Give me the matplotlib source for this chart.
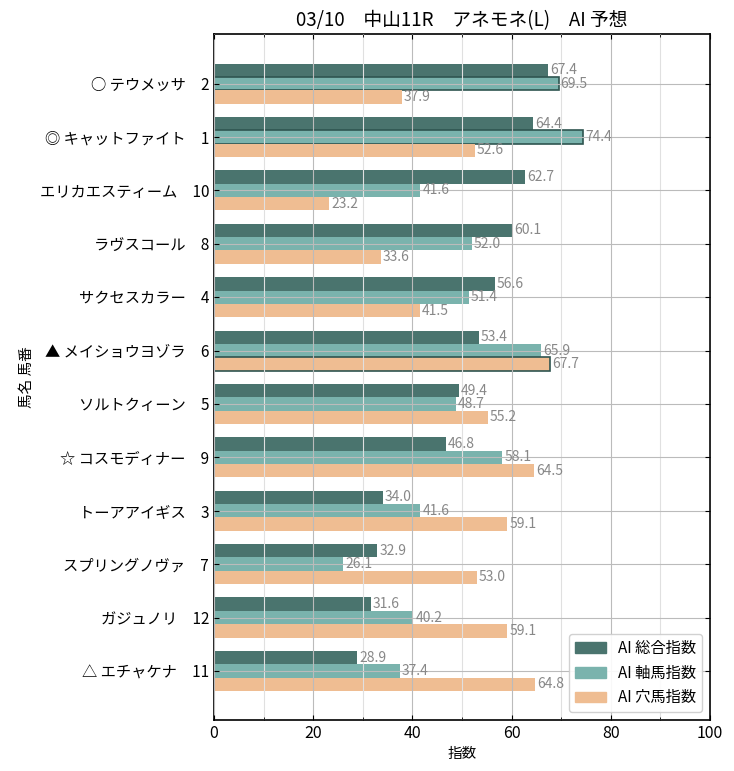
import matplotlib
matplotlib.use('Agg')
import matplotlib.pyplot as plt
import matplotlib.patches as mpatches
import numpy as np

plt.rcParams['font.family'] = ['Noto Sans CJK JP', 'DejaVu Sans']

TITLE = "03/10　中山11R　アネモネ(L)　AI 予想"
names = ["○ テウメッサ　2", "◎ キャットファイト　1", "エリカエスティーム　10", "ラヴスコール　8",
         "サクセスカラー　4", "▲ メイショウヨゾラ　6", "ソルトクィーン　5", "☆ コスモディナー　9",
         "トーアアイギス　3", "スプリングノヴァ　7", "ガジュノリ　12", "△ エチャケナ　11"]
sogo = [67.4, 64.4, 62.7, 60.1, 56.6, 53.4, 49.4, 46.8, 34.0, 32.9, 31.6, 28.9]
jiku = [69.5, 74.4, 41.6, 52.0, 51.4, 65.9, 48.7, 58.1, 41.6, 26.1, 40.2, 37.4]
ana = [37.9, 52.6, 23.2, 33.6, 41.5, 67.7, 55.2, 64.5, 59.1, 53.0, 59.1, 64.8]
# highlighted bars (edge) : (series, row)
highlight = [(1, 0), (1, 1), (2, 5)]

series = [sogo, jiku, ana]
labels = ["AI 総合指数", "AI 軸馬指数", "AI 穴馬指数"]
colors = ['#4a746e', '#7ab3ad', '#efbd92']

fig = plt.figure(figsize=(7.34, 7.71), dpi=100)
ax = fig.add_axes([214 / 734, 51 / 771, 496 / 734, 686 / 771])

y = np.arange(len(names))
h = 0.25
for k, (vals, col) in enumerate(zip(series, colors)):
    offs = (k - 1) * h
    bars = ax.barh(y + offs, vals, height=h, color=col, zorder=1)
    for i, (b, v) in enumerate(zip(bars, vals)):
        if (k, i) in highlight:
            b.set_edgecolor('#2f5550')
            b.set_linewidth(1.2)
        ax.text(v + 0.4, y[i] + offs, f"{v:.1f}", va='center', ha='left',
                fontsize=10, color='#888888', zorder=3)

ax.set_yticks(y)
ax.set_yticklabels(names, fontsize=11)
ax.set_ylim(len(names) - 1 + 0.92, -0.93)
ax.set_xlim(0, 100)
ax.set_xticks(np.arange(0, 101, 20))
ax.set_xticks(np.arange(10, 100, 20), minor=True)
ax.tick_params(axis='x', labelsize=11.5)
ax.tick_params(which='both', direction='in', top=True, right=True)
ax.grid(which='major', color='#bbbbbb', linewidth=0.8, zorder=2)
ax.grid(which='minor', axis='x', color='#e0e0e0', linewidth=0.8, zorder=2)
ax.set_axisbelow(False)
for s in ax.spines.values():
    s.set_linewidth(1.2)

ax.set_xlabel("指数", fontsize=10.5)
ax.set_ylabel("馬名 馬番", fontsize=10.5)
ax.set_title(TITLE, fontsize=13.5)
handles = [mpatches.Patch(color=c, label=l) for c, l in zip(colors, labels)]
ax.legend(handles=handles, loc='lower right', fontsize=11, framealpha=0.9)

fig.savefig("out.png", dpi=100)
